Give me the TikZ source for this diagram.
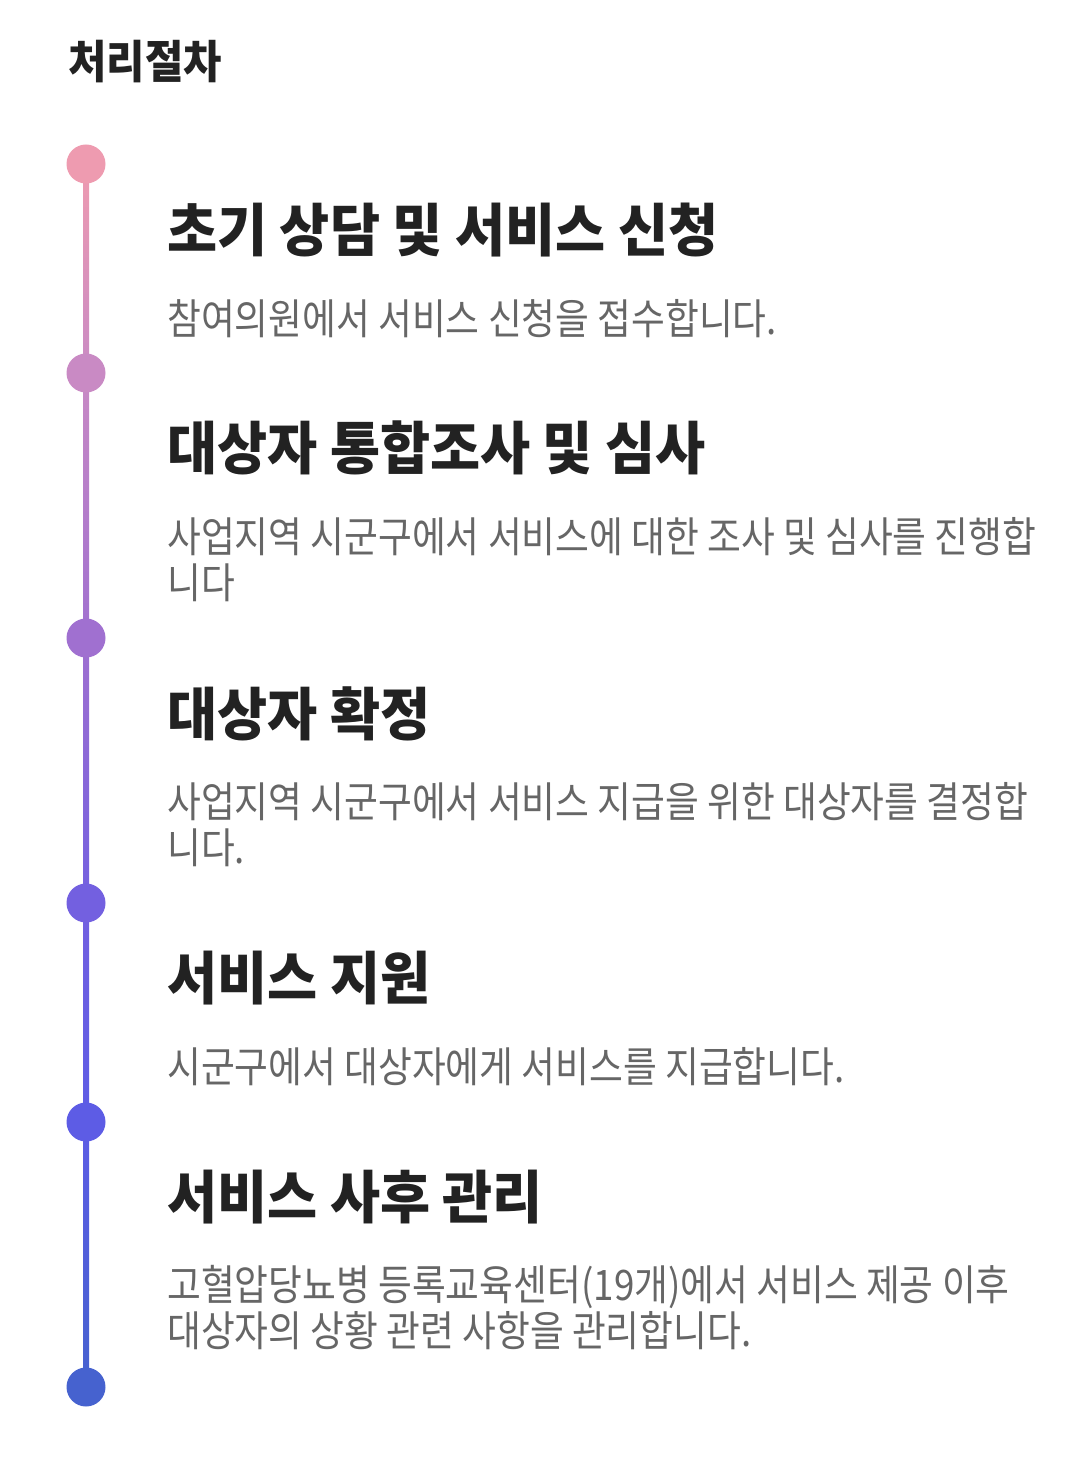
\documentclass[tikz,border=0pt]{standalone}
\usepackage{fontspec}
\newfontfamily\krheadfont[FakeStretch=0.95]{Noto Sans CJK KR}
\newfontfamily\krtitlefont[FakeStretch=0.92]{Noto Sans CJK KR}
\newfontfamily\krfont[FakeStretch=0.875]{Noto Sans CJK KR}
\usepackage{tikz}
\usetikzlibrary{positioning,calc,backgrounds}
\definecolor{cText}{HTML}{222222}
\definecolor{cDesc}{HTML}{666666}
\definecolor{cStepA}{HTML}{EE9BB0}
\definecolor{cStepB}{HTML}{C98AC4}
\definecolor{cStepC}{HTML}{A070D0}
\definecolor{cStepD}{HTML}{7360E0}
\definecolor{cStepE}{HTML}{5D5CE5}
\definecolor{cStepF}{HTML}{4662CF}
\tikzset{
  step-dot/.style={circle,inner sep=0pt,minimum size=29.25pt},
  page-head/.style={anchor=west,inner sep=0pt,text=cText,
    font=\krtitlefont\bfseries\fontsize{34}{40}\selectfont},
  step-head/.style={anchor=west,inner sep=0pt,text=cText,
    font=\krheadfont\bfseries\fontsize{43}{48}\selectfont},
  step-desc/.style={anchor=north west,inner sep=0pt,align=left,text=cDesc,
    font=\krfont\fontsize{31.5}{34.5}\selectfont},
}

\begin{document}
\begin{tikzpicture}[x=0.75pt,y=-0.75pt]
  \useasboundingbox (0,0) rectangle (1076,1469);
  \node[page-head] (ttl) at (68,62) {처리절차};

  % 단계 점
  \node[step-dot,fill=cStepA] (d1) at (86,164) {};
  \node[step-dot,fill=cStepB] (d2) at (86,373) {};
  \node[step-dot,fill=cStepC] (d3) at (86,638) {};
  \node[step-dot,fill=cStepD] (d4) at (86,903) {};
  \node[step-dot,fill=cStepE] (d5) at (86,1122) {};
  \node[step-dot,fill=cStepF] (d6) at (86,1387) {};

  % 세로 연결선 (그라데이션)
  \begin{scope}[on background layer]
    \shade[top color=cStepA,bottom color=cStepB] ($(d1)+(-3,0)$) rectangle ($(d2)+(3,0)$);
    \shade[top color=cStepB,bottom color=cStepC] ($(d2)+(-3,0)$) rectangle ($(d3)+(3,0)$);
    \shade[top color=cStepC,bottom color=cStepD] ($(d3)+(-3,0)$) rectangle ($(d4)+(3,0)$);
    \shade[top color=cStepD,bottom color=cStepE] ($(d4)+(-3,0)$) rectangle ($(d5)+(3,0)$);
    \shade[top color=cStepE,bottom color=cStepF] ($(d5)+(-3,0)$) rectangle ($(d6)+(3,0)$);
  \end{scope}

  % 단계 제목과 설명
  \node[step-head] (h1) at (167,230) {초기 상담 및 서비스 신청};
  \node[step-desc] (t1) at (167,299) {참여의원에서 서비스 신청을 접수합니다.};
  \node[step-head] (h2) at (167,448) {대상자 통합조사 및 심사};
  \node[step-desc] (t2) at (167,517) {사업지역 시군구에서 서비스에 대한 조사 및 심사를 진행합\\니다};
  \node[step-head] (h3) at (167,714) {대상자 확정};
  \node[step-desc] (t3) at (167,782) {사업지역 시군구에서 서비스 지급을 위한 대상자를 결정합\\니다.};
  \node[step-head] (h4) at (167,978) {서비스 지원};
  \node[step-desc] (t4) at (167,1047) {시군구에서 대상자에게 서비스를 지급합니다.};
  \node[step-head] (h5) at (167,1197) {서비스 사후 관리};
  \node[step-desc] (t5) at (167,1265) {고혈압당뇨병 등록교육센터(19개)에서 서비스 제공 이후\\대상자의 상황 관련 사항을 관리합니다.};
\end{tikzpicture}
\end{document}
